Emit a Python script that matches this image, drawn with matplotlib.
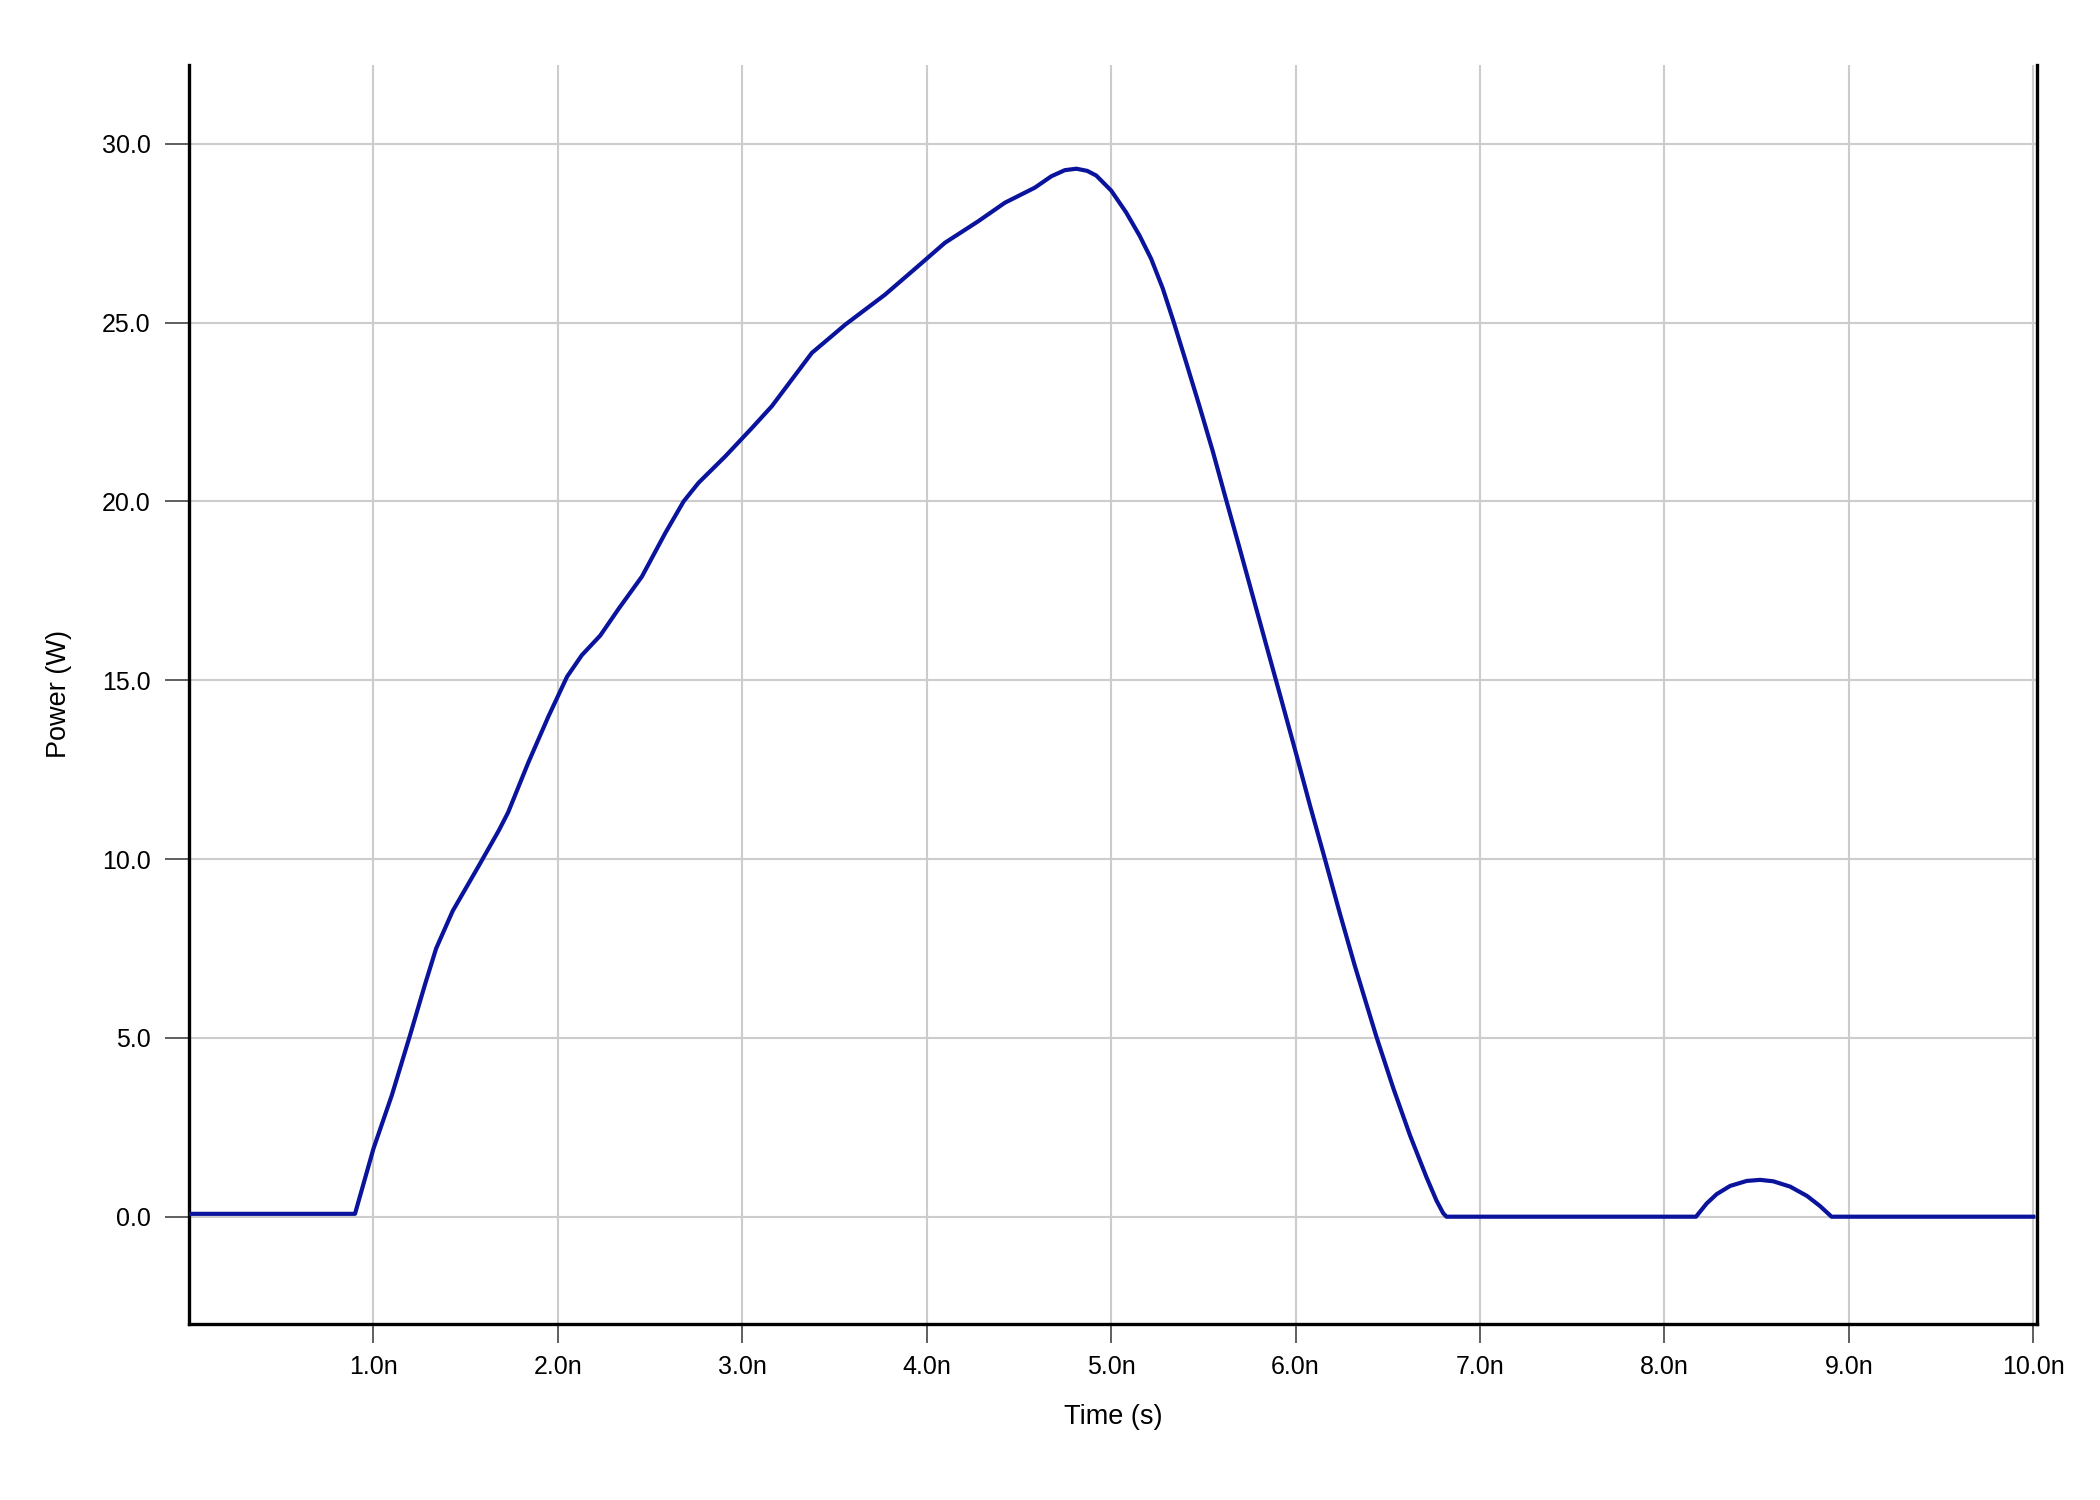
import matplotlib
matplotlib.use("Agg")
import matplotlib.pyplot as plt
from matplotlib.ticker import FixedLocator, FuncFormatter

plt.rcParams['font.family'] = ['Liberation Sans', 'DejaVu Sans']

# power trace (time in ns, power in W)
time_ns = [0.0, 0.9, 1.0, 1.10, 1.20, 1.28, 1.34, 1.43, 1.57, 1.68, 1.73, 1.84,
           1.95, 2.05, 2.13, 2.23, 2.33, 2.456, 2.583, 2.682, 2.763, 2.908, 3.052,
           3.16, 3.377, 3.485, 3.558, 3.774, 3.954, 4.099, 4.279, 4.424, 4.586,
           4.676, 4.749, 4.812, 4.87, 4.919, 5.0, 5.081, 5.154, 5.217, 5.28,
           5.34, 5.407, 5.479, 5.551, 5.623, 5.696, 5.768, 5.84, 5.915, 6.0,
           6.078, 6.159, 6.24, 6.322, 6.385, 6.439, 6.53, 6.62, 6.71, 6.764,
           6.80, 6.818,
           8.171, 8.229, 8.283, 8.356, 8.446, 8.518, 8.590, 8.682, 8.773, 8.843,
           8.906, 10.0]
power_w = [0.08, 0.08, 1.9, 3.4, 5.1, 6.5, 7.5, 8.55, 9.8, 10.8, 11.3, 12.7,
           14.0, 15.1, 15.7, 16.25, 17.0, 17.9, 19.12, 20.0, 20.52, 21.26, 22.05,
           22.66, 24.15, 24.62, 24.94, 25.78, 26.58, 27.23, 27.83, 28.35, 28.77,
           29.09, 29.26, 29.30, 29.24, 29.11, 28.69, 28.08, 27.43, 26.78, 25.95,
           25.0, 23.88, 22.66, 21.4, 20.05, 18.7, 17.35, 16.0, 14.6, 13.0,
           11.5, 10.0, 8.48, 7.0, 5.93, 5.02, 3.59, 2.28, 1.1, 0.45,
           0.1, 0.0,
           0.0, 0.37, 0.63, 0.86, 1.0, 1.03, 0.99, 0.84, 0.58, 0.30,
           0.0, 0.0]

x_ticks = [1, 2, 3, 4, 5, 6, 7, 8, 9, 10]
y_ticks = [0, 5, 10, 15, 20, 25, 30]

fig = plt.figure(figsize=(14, 10), dpi=150)
ax = fig.add_axes([189 / 2100, 1 - 1324 / 1500, (2037 - 189) / 2100, (1324 - 65) / 1500])

ax.plot(time_ns, power_w, color='#0a139c', linewidth=2.0, zorder=3)

ax.set_xlim(0, 10.02)
ax.set_ylim(-3.0, 32.2)
ax.xaxis.set_major_locator(FixedLocator(x_ticks))
ax.yaxis.set_major_locator(FixedLocator(y_ticks))
ax.xaxis.set_major_formatter(FuncFormatter(lambda v, p: f"{v:.1f}n"))
ax.yaxis.set_major_formatter(FuncFormatter(lambda v, p: f"{v:.1f}"))

ax.grid(True, color='#cccccc', linewidth=1.0, zorder=0)
ax.set_axisbelow(True)

for side in ['left', 'bottom', 'right']:
    ax.spines[side].set_color('black')
    ax.spines[side].set_linewidth(1.6)
ax.spines['top'].set_visible(False)

ax.tick_params(axis='y', direction='out', length=11.5, width=0.8, color='#444444',
               labelsize=12, pad=7)
ax.tick_params(axis='x', direction='out', length=9, width=0.8, color='#444444',
               labelsize=12, pad=6)

ax.set_xlabel("Time (s)", fontsize=13, labelpad=12)
ax.set_ylabel("Power (W)", fontsize=13, labelpad=14)

fig.savefig("out.png", dpi=150, facecolor='white')
